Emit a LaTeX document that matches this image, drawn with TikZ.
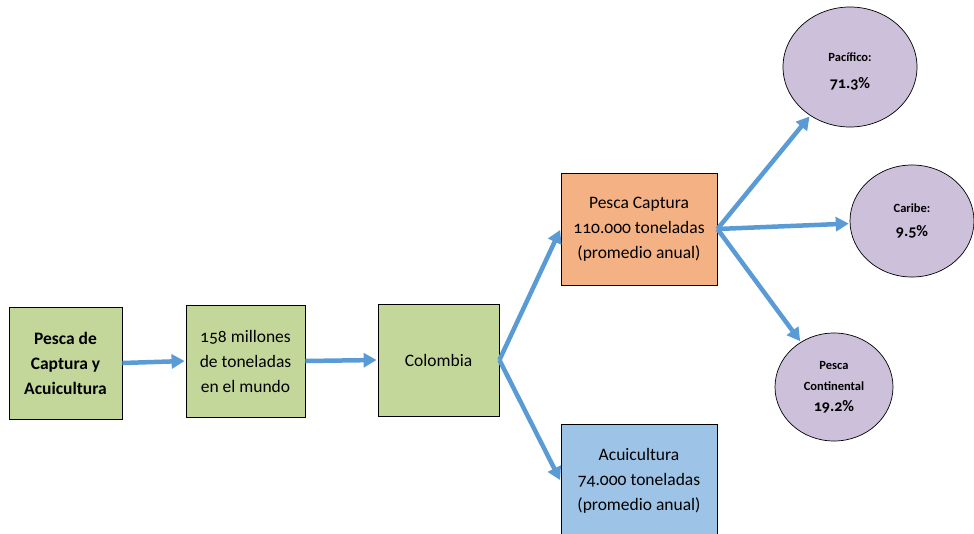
\documentclass[tikz,border=0pt]{standalone}
\usepackage{fontspec}
\setmainfont[Numbers=OldStyle]{Carlito}
\usetikzlibrary{arrows.meta,shapes.geometric}
\definecolor{boxgreen}{HTML}{C4D79B}
\definecolor{boxorange}{HTML}{F4B183}
\definecolor{boxblue}{HTML}{9DC3E6}
\definecolor{ellpurple}{HTML}{CCC0DA}
\definecolor{arrblue}{HTML}{5B9BD5}
\newcommand{\smallt}{\fontsize{12.5}{14}\selectfont}
\newcommand{\bigt}{\fontsize{16}{18}\selectfont}
\tikzset{
  box/.style={draw=black, line width=0.8pt, rectangle, align=center, inner sep=2pt,
    font=\fontsize{17.5}{25}\selectfont},
  ell/.style={draw=black, line width=0.7pt, ellipse, fill=ellpurple, align=center, inner sep=0pt,
    font=\bfseries},
  arr/.style={draw=arrblue, line width=4.5pt, -{Triangle[length=13pt,width=14pt]}, shorten >=1pt},
}
\begin{document}
\begin{tikzpicture}[x=1pt,y=-1pt]
\useasboundingbox (0,0) rectangle (974,533);
\node[box, fill=boxgreen, minimum width=113pt, minimum height=112pt, font=\bfseries\fontsize{17.5}{25}\selectfont] (b1) at (65.5,363) {Pesca de\\Captura y\\Acuicultura};
\node[box, fill=boxgreen, minimum width=119pt, minimum height=112pt] (b2) at (245.5,361) {158 millones\\de toneladas\\en el mundo};
\node[box, fill=boxgreen, minimum width=121pt, minimum height=112pt] (col) at (438.5,360) {Colombia};
\node[box, fill=boxorange, minimum width=156pt, minimum height=112pt] (pc) at (639,229) {Pesca Captura\\110.000 toneladas\\(promedio anual)};
\node[box, fill=boxblue, minimum width=156pt, minimum height=114pt] (acu) at (639,481) {Acuicultura\\74.000 toneladas\\(promedio anual)};
\node[ell, minimum width=134pt, minimum height=120pt] (pac) at (850,67) {\smallt\rule{0pt}{17pt}Pacífico:\\[15pt]\bigt 71.3\%};
\node[ell, minimum width=124pt, minimum height=112pt] (car) at (912,221) {\smallt Caribe:\\[12pt]\bigt 9.5\%};
\node[ell, minimum width=118pt, minimum height=108pt] (con) at (834,387) {\smallt Pesca\\[9pt]\smallt Continental\\[9pt]\bigt 19.2\%};
\draw[arr] (b1.east) -- (b2.west);
\draw[arr] (b2.east) -- (col.west);
\draw[arr] (col.east) -- (pc.west);
\draw[arr] (col.east) -- (acu.west);
\draw[arr] (pc.east) -- (pac);
\draw[arr] (pc.east) -- (car);
\draw[arr] (pc.east) -- (con);
\end{tikzpicture}
\end{document}
